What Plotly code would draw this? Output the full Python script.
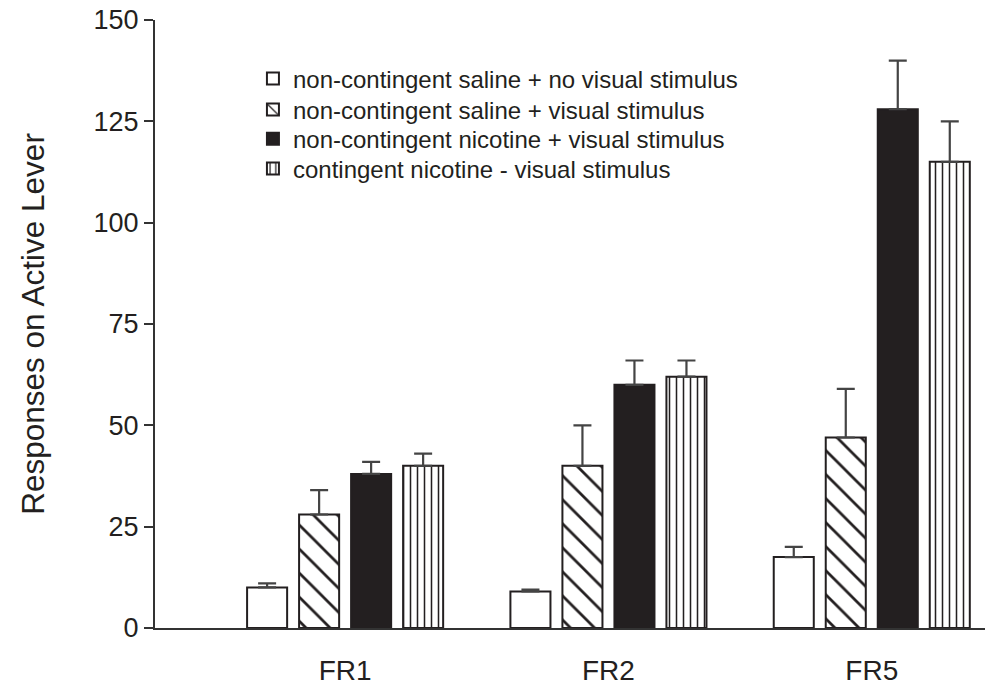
import plotly.graph_objects as go

categories = ["FR1", "FR2", "FR5"]
series_names = [
    "non-contingent saline + no visual stimulus",
    "non-contingent saline + visual stimulus",
    "non-contingent nicotine + visual stimulus",
    "contingent nicotine - visual stimulus",
]
sal_no_vis = [10, 9, 17.5]
sal_no_vis_err = [1, 0.5, 2.5]
sal_vis = [28, 40, 47]
sal_vis_err = [6, 10, 12]
nic_vis = [38, 60, 128]
nic_vis_err = [3, 6, 12]
cont_nic = [40, 62, 115]
cont_nic_err = [3, 4, 10]
y_ticks = [0, 25, 50, 75, 100, 125, 150]

INK = "#231f20"
FONT = "Liberation Sans, Arial, Helvetica, sans-serif"

styles = [
    dict(color="white", pattern=dict(shape="")),
    dict(color="white", pattern=dict(shape="\\", size=17, solidity=0.16, fgcolor=INK, fgopacity=1,
                                     bgcolor="white", fillmode="overlay")),
    dict(color=INK, pattern=dict(shape="")),
    dict(color="white", pattern=dict(shape="|", size=7, solidity=0.22, fgcolor=INK, fgopacity=1,
                                     bgcolor="white", fillmode="overlay")),
]
values = [sal_no_vis, sal_vis, nic_vis, cont_nic]
errors = [sal_no_vis_err, sal_vis_err, nic_vis_err, cont_nic_err]
legend_ids = ["legend", "legend2", "legend3", "legend4"]
legend_rows = [0.903, 0.852, 0.804, 0.755]

fig = go.Figure()
for name, vals, errs, st, lid in zip(series_names, values, errors, styles, legend_ids):
    fig.add_trace(go.Bar(
        x=categories, y=vals, name=name, legend=lid,
        marker=dict(color=st["color"], pattern=st["pattern"],
                    line=dict(color=INK, width=2)),
        error_y=dict(type="data", symmetric=False, array=errs,
                     arrayminus=[0] * len(errs), color="#444", thickness=2.2, width=9),
    ))

legend_common = dict(x=0.118, xanchor="left", yanchor="middle",
                     font=dict(size=24, color=INK), bgcolor="rgba(0,0,0,0)")
layout_legends = {lid: dict(legend_common, y=yy) for lid, yy in zip(legend_ids, legend_rows)}

fig.update_layout(
    width=987, height=687,
    margin=dict(l=155, r=2, t=20, b=59),
    paper_bgcolor="white", plot_bgcolor="white",
    barmode="group", bargap=0.21, bargroupgap=0.23,
    font=dict(family=FONT, color=INK),
    showlegend=True,
    xaxis=dict(range=[-0.722, 2.43], showline=True, linecolor="#333", linewidth=2,
               ticks="", tickfont=dict(size=28, color=INK), ticklabelstandoff=16,
               showgrid=False, zeroline=False),
    yaxis=dict(range=[0, 150], tickvals=y_ticks, showline=True, linecolor="#333",
               linewidth=2, ticks="outside", ticklen=9, tickwidth=2, tickcolor="#333",
               tickfont=dict(size=27, color=INK), ticklabelstandoff=0,
               showgrid=False, zeroline=False,
               title=dict(text="Responses on Active Lever", font=dict(size=31.5, color=INK), standoff=40)),
    **layout_legends,
)

fig.write_html("out.html")
